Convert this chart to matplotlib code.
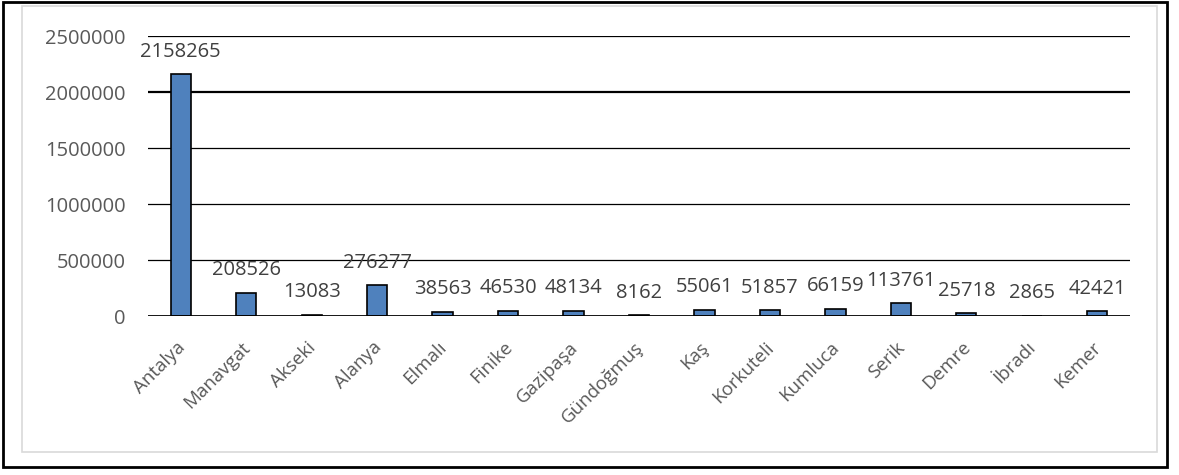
import matplotlib.pyplot as plt
from matplotlib.patches import Rectangle
from matplotlib.transforms import ScaledTranslation

plt.rcParams["font.family"] = ["Open Sans", "DejaVu Sans"]

districts = ["Antalya", "Manavgat", "Akseki", "Alanya", "Elmalı", "Finike", "Gazipaşa",
             "Gündoğmuş", "Kaş", "Korkuteli", "Kumluca", "Serik", "Demre", "İbradı", "Kemer"]
population = [2158265, 208526, 13083, 276277, 38563, 46530, 48134,
              8162, 55061, 51857, 66159, 113761, 25718, 2865, 42421]
yticks = [0, 500000, 1000000, 1500000, 2000000, 2500000]

W, H = 1179, 475
fig = plt.figure(figsize=(W / 100, H / 100), dpi=100)

# outer black frame and inner light gray chart frame
fig.patches.append(Rectangle((3 / W, 1 - 467 / H), 1164 / W, 465 / H, transform=fig.transFigure,
                             fill=False, edgecolor="black", linewidth=2))
fig.patches.append(Rectangle((22 / W, 1 - 452 / H), 1135 / W, 446 / H, transform=fig.transFigure,
                             fill=False, edgecolor="#d9d9d9", linewidth=1.2))

ax = fig.add_axes([148 / W, 1 - 316 / H, (1130 - 148) / W, (316 - 36) / H])
x = range(len(districts))
ax.bar(x, population, width=0.31, color="#4F81BD", edgecolor="black", linewidth=1.2, zorder=3)

for i, v in enumerate(population):
    ax.annotate(str(v), (i, v), xytext=(0, 9), textcoords="offset points",
                ha="center", va="bottom", fontsize=14.5, color="#404040")

ax.set_xlim(-0.5, len(districts) - 0.5)
ax.set_ylim(0, 2500000)
ax.set_yticks(yticks)
ax.set_yticklabels([str(t) for t in yticks], fontsize=14.5, color="#595959")
ax.set_xticks(list(x))
ax.set_xticklabels(districts, rotation=45, ha="right", rotation_mode="anchor",
                   fontsize=13.5, color="#595959")
ax.tick_params(length=0)
ax.tick_params(axis="y", pad=16)
ax.tick_params(axis="x", pad=16)
shift = ScaledTranslation(-5 / 100, 0, fig.dpi_scale_trans)
for lbl in ax.get_xticklabels():
    lbl.set_transform(lbl.get_transform() + shift)

for t in yticks[1:]:
    ax.axhline(t, color="black", linewidth=1.6 if t == 2000000 else 0.9, zorder=1)
ax.axhline(0, color="black", linewidth=2, zorder=4)

for s in ax.spines.values():
    s.set_visible(False)

fig.savefig("out.png", dpi=100)
